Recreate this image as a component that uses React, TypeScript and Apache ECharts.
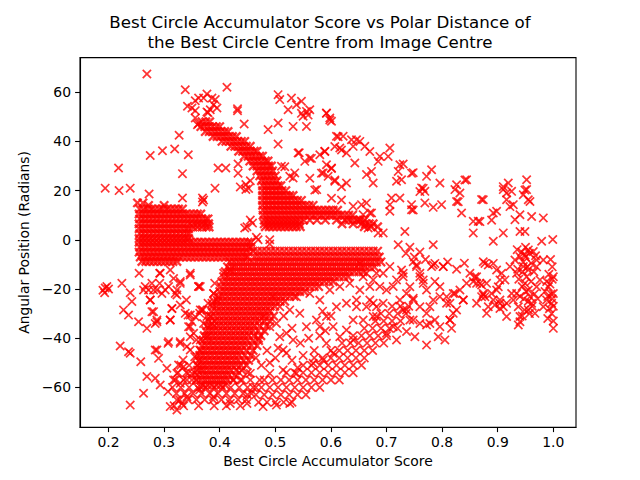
import React, { useEffect, useRef } from 'react';
import * as echarts from 'echarts';

// dense parts of the cloud, read row by row: [angular position, [scores...]]
const coreBlock: [number, number[]][] = [
  [15, [0.252, 0.262]],
  [14, [0.272, 0.3]],
  [12.5, [0.256, 0.263, 0.27, 0.277, 0.284, 0.291, 0.298, 0.305, 0.312, 0.319, 0.326, 0.333]],
  [10.5, [0.255, 0.262, 0.269, 0.276, 0.283, 0.29, 0.297, 0.304, 0.311, 0.318, 0.325, 0.332, 0.339, 0.346, 0.353, 0.36, 0.366]],
  [8.5, [0.256, 0.263, 0.27, 0.277, 0.284, 0.291, 0.298, 0.305, 0.312, 0.319, 0.326, 0.333, 0.34, 0.347, 0.354, 0.361, 0.368, 0.375, 0.379]],
  [6.5, [0.255, 0.262, 0.269, 0.276, 0.283, 0.29, 0.297, 0.304, 0.311, 0.318, 0.325, 0.332, 0.339, 0.346, 0.353, 0.36, 0.367, 0.374, 0.38]],
  [5.2, [0.352, 0.36, 0.368, 0.376, 0.381]],
  [4.5, [0.255, 0.262, 0.269, 0.276, 0.283, 0.29, 0.297, 0.304, 0.311, 0.318, 0.325, 0.332, 0.339, 0.344]],
  [2.5, [0.256, 0.263, 0.27, 0.277, 0.284, 0.291, 0.298, 0.305, 0.312, 0.319, 0.326, 0.333, 0.34, 0.345]],
  [0.5, [0.255, 0.262, 0.269, 0.276, 0.283, 0.29, 0.297, 0.304, 0.311, 0.318, 0.325, 0.332, 0.339, 0.344]],
  [-1, [0.255, 0.262, 0.269, 0.276, 0.283, 0.29, 0.297, 0.304, 0.311, 0.318, 0.325, 0.332, 0.339, 0.346, 0.353, 0.36, 0.367, 0.374, 0.381, 0.388, 0.395, 0.402, 0.409, 0.416, 0.423, 0.43, 0.437, 0.444, 0.451, 0.456]],
  [-3, [0.256, 0.263, 0.27, 0.277, 0.284, 0.291, 0.298, 0.305, 0.312, 0.319, 0.326, 0.333, 0.34, 0.347, 0.354, 0.361, 0.368, 0.375, 0.382, 0.389, 0.396, 0.403, 0.41, 0.417, 0.424, 0.431, 0.438, 0.445, 0.452, 0.456]],
  [-5, [0.255, 0.262, 0.269, 0.276, 0.283, 0.29, 0.297, 0.304, 0.311, 0.318, 0.325, 0.332, 0.339, 0.346, 0.353, 0.36, 0.367, 0.374, 0.381, 0.388, 0.395, 0.402, 0.409, 0.416, 0.423, 0.43, 0.437, 0.444, 0.451]],
  [-7, [0.257, 0.264, 0.271, 0.278, 0.285, 0.292, 0.299, 0.306, 0.313, 0.32, 0.327, 0.334, 0.341, 0.348, 0.355, 0.362, 0.369, 0.376, 0.383, 0.39, 0.397, 0.404, 0.411, 0.418, 0.425, 0.432, 0.439, 0.446, 0.45]],
  [-8.8, [0.26, 0.267, 0.274, 0.281, 0.288, 0.295, 0.302, 0.309, 0.316, 0.323]],
];

const wedgeRows: [number, number[]][] = [
  [-4.6, [0.46, 0.468, 0.476, 0.484, 0.492, 0.5, 0.508, 0.516, 0.524, 0.532, 0.54, 0.548, 0.556, 0.564, 0.572, 0.58, 0.588, 0.596, 0.604, 0.612, 0.62, 0.628, 0.636, 0.644, 0.652, 0.66, 0.668, 0.676, 0.684]],
  [-7, [0.463, 0.471, 0.479, 0.487, 0.495, 0.503, 0.511, 0.519, 0.527, 0.535, 0.543, 0.551, 0.559, 0.567, 0.575, 0.583, 0.591, 0.599, 0.607, 0.615, 0.623, 0.631, 0.639, 0.647, 0.655, 0.663, 0.671, 0.679, 0.687]],
  [-9, [0.418, 0.426, 0.434, 0.442, 0.45, 0.458, 0.466, 0.474, 0.482, 0.49, 0.498, 0.506, 0.514, 0.522, 0.53, 0.538, 0.546, 0.554, 0.562, 0.57, 0.578, 0.586, 0.594, 0.602, 0.61, 0.618, 0.626, 0.634, 0.642, 0.65, 0.658, 0.666, 0.674, 0.682, 0.69]],
  [-11, [0.414, 0.422, 0.43, 0.438, 0.446, 0.454, 0.462, 0.47, 0.478, 0.486, 0.494, 0.502, 0.51, 0.518, 0.526, 0.534, 0.542, 0.55, 0.558, 0.566, 0.574, 0.582, 0.59, 0.598, 0.606, 0.614, 0.622, 0.63, 0.638, 0.646, 0.654, 0.662, 0.67, 0.678]],
  [-13, [0.41, 0.418, 0.426, 0.434, 0.442, 0.45, 0.458, 0.466, 0.474, 0.482, 0.49, 0.498, 0.506, 0.514, 0.522, 0.53, 0.538, 0.546, 0.554, 0.562, 0.57, 0.578, 0.586, 0.594, 0.602, 0.61, 0.618, 0.626, 0.634, 0.642, 0.65, 0.658]],
  [-15, [0.407, 0.415, 0.423, 0.431, 0.439, 0.447, 0.455, 0.463, 0.471, 0.479, 0.487, 0.495, 0.503, 0.511, 0.519, 0.527, 0.535, 0.543, 0.551, 0.559, 0.567, 0.575, 0.583, 0.591, 0.599, 0.607, 0.615, 0.623, 0.631]],
  [-17, [0.404, 0.412, 0.42, 0.428, 0.436, 0.444, 0.452, 0.46, 0.468, 0.476, 0.484, 0.492, 0.5, 0.508, 0.516, 0.524, 0.532, 0.54, 0.548, 0.556, 0.564, 0.572, 0.58, 0.588, 0.596, 0.604]],
  [-19, [0.402, 0.41, 0.418, 0.426, 0.434, 0.442, 0.45, 0.458, 0.466, 0.474, 0.482, 0.49, 0.498, 0.506, 0.514, 0.522, 0.53, 0.538, 0.546, 0.554, 0.562, 0.57, 0.578]],
  [-21, [0.4, 0.408, 0.416, 0.424, 0.432, 0.44, 0.448, 0.456, 0.464, 0.472, 0.48, 0.488, 0.496, 0.504, 0.512, 0.52, 0.528, 0.536, 0.544, 0.552]],
  [-23, [0.398, 0.406, 0.414, 0.422, 0.43, 0.438, 0.446, 0.454, 0.462, 0.47, 0.478, 0.486, 0.494, 0.502, 0.51, 0.518, 0.526, 0.534]],
  [-25, [0.397, 0.405, 0.413, 0.421, 0.429, 0.437, 0.445, 0.453, 0.461, 0.469, 0.477, 0.485, 0.493, 0.501, 0.509, 0.517]],
  [-27, [0.395, 0.403, 0.411, 0.419, 0.427, 0.435, 0.443, 0.451, 0.459, 0.467, 0.475, 0.483, 0.491, 0.499]],
  [-29, [0.394, 0.402, 0.41, 0.418, 0.426, 0.434, 0.442, 0.45, 0.458, 0.466, 0.474, 0.482, 0.49]],
  [-31, [0.392, 0.4, 0.408, 0.416, 0.424, 0.432, 0.44, 0.448, 0.456, 0.464, 0.472, 0.48]],
  [-33, [0.391, 0.399, 0.407, 0.415, 0.423, 0.431, 0.439, 0.447, 0.455, 0.463, 0.471]],
  [-35, [0.39, 0.398, 0.406, 0.414, 0.422, 0.43, 0.438, 0.446, 0.454, 0.462]],
  [-37, [0.389, 0.397, 0.405, 0.413, 0.421, 0.429, 0.437, 0.445, 0.453, 0.46]],
  [-39, [0.388, 0.396, 0.404, 0.412, 0.42, 0.428, 0.436, 0.444, 0.452]],
  [-41, [0.386, 0.394, 0.402, 0.41, 0.418, 0.426, 0.434, 0.442, 0.45]],
  [-43, [0.384, 0.392, 0.4, 0.408, 0.416, 0.424, 0.432, 0.44, 0.448]],
  [-45, [0.382, 0.39, 0.398, 0.406, 0.414, 0.422, 0.43, 0.438]],
  [-47, [0.379, 0.387, 0.395, 0.403, 0.411, 0.419, 0.427, 0.435]],
  [-49, [0.377, 0.385, 0.393, 0.401, 0.409, 0.417, 0.425, 0.433]],
  [-51, [0.374, 0.382, 0.39, 0.398, 0.406, 0.414, 0.422, 0.43]],
  [-53, [0.372, 0.38, 0.388, 0.396, 0.404, 0.412, 0.42]],
  [-55, [0.369, 0.377, 0.385, 0.393, 0.401, 0.409, 0.417]],
  [-57, [0.366, 0.374, 0.382, 0.39, 0.398, 0.406, 0.414]],
  [-59, [0.37, 0.378, 0.386, 0.394, 0.402, 0.41]],
];

// the wedge is wider on both flanks below about -25
const wedgeEdgeRows: [number, number[]][] = [
  [-25, [0.39]],
  [-27, [0.387]],
  [-29, [0.385]],
  [-31, [0.384, 0.488, 0.497]],
  [-33, [0.38, 0.48, 0.49]],
  [-35, [0.377, 0.383, 0.472, 0.484]],
  [-37, [0.375, 0.382, 0.469, 0.48]],
  [-39, [0.372, 0.38, 0.462, 0.474]],
  [-41, [0.37, 0.378, 0.46, 0.47]],
  [-43, [0.368, 0.376, 0.457, 0.467]],
  [-45, [0.366, 0.374, 0.448, 0.46]],
  [-47, [0.364, 0.371, 0.445, 0.456]],
  [-49, [0.362, 0.369, 0.443, 0.452]],
  [-51, [0.36, 0.367, 0.438, 0.448]],
  [-53, [0.36, 0.366, 0.43, 0.44]],
  [-55, [0.36, 0.427]],
  [-57, [0.358, 0.424]],
];

const upperBandRows: [number, number[]][] = [
  [48, [0.368, 0.375, 0.382]],
  [46, [0.366, 0.373, 0.38, 0.387, 0.394, 0.4]],
  [44, [0.374, 0.381, 0.388, 0.395, 0.402, 0.409, 0.415]],
  [42, [0.388, 0.395, 0.402, 0.409, 0.416, 0.423, 0.43]],
  [40, [0.404, 0.411, 0.418, 0.425, 0.432, 0.439, 0.445]],
  [38, [0.42, 0.427, 0.434, 0.441, 0.448, 0.455]],
  [36, [0.434, 0.441, 0.448, 0.455, 0.462, 0.467]],
  [34, [0.444, 0.451, 0.458, 0.465, 0.472, 0.477]],
  [32, [0.454, 0.461, 0.468, 0.475, 0.482, 0.487]],
  [30, [0.46, 0.467, 0.474, 0.481, 0.488, 0.493]],
  [28, [0.467, 0.474, 0.481, 0.488, 0.495]],
  [26, [0.472, 0.479, 0.486, 0.493, 0.5]],
  [24, [0.475, 0.482, 0.489, 0.496, 0.503]],
  [22, [0.477, 0.484, 0.491, 0.498, 0.505, 0.51]],
  [20, [0.477, 0.484, 0.491, 0.498, 0.505, 0.512, 0.519]],
  [18, [0.477, 0.484, 0.491, 0.498, 0.505, 0.512, 0.519, 0.526, 0.532]],
  [16, [0.477, 0.484, 0.491, 0.498, 0.505, 0.512, 0.519, 0.526, 0.533, 0.54, 0.547]],
  [14, [0.477, 0.484, 0.491, 0.498, 0.505, 0.512, 0.519, 0.526, 0.533, 0.54, 0.547, 0.554, 0.561, 0.568]],
  [12, [0.478, 0.485, 0.492, 0.499, 0.506, 0.513, 0.52, 0.527, 0.534, 0.541, 0.548, 0.555, 0.562, 0.569, 0.576, 0.583, 0.59, 0.597, 0.604, 0.612]],
  [10, [0.478, 0.485, 0.492, 0.499, 0.506, 0.513, 0.52, 0.527, 0.534, 0.541, 0.548, 0.555, 0.562, 0.569, 0.576, 0.583, 0.59, 0.597, 0.604, 0.611, 0.618, 0.625, 0.632, 0.639]],
  [8, [0.48, 0.487, 0.494, 0.501, 0.508, 0.515, 0.522, 0.529, 0.536, 0.543, 0.551, 0.562, 0.575, 0.59, 0.61, 0.625, 0.632, 0.639, 0.646, 0.653, 0.66]],
  [6.5, [0.48, 0.487, 0.494, 0.501, 0.508, 0.515, 0.522, 0.529, 0.536, 0.543, 0.62, 0.64, 0.655, 0.662, 0.669, 0.676]],
  [5.3, [0.482, 0.489, 0.496, 0.503, 0.51, 0.517, 0.524, 0.531, 0.538, 0.545, 0.66, 0.672, 0.684]],
];

const lowerBandRows: [number, number[]][] = [
  [-66, [0.47, 0.485, 0.5, 0.515, 0.53]],
  [-63, [0.45, 0.465, 0.48, 0.495, 0.51, 0.525, 0.54, 0.555]],
  [-60, [0.46, 0.475, 0.49, 0.505, 0.52, 0.535, 0.55, 0.565, 0.58]],
  [-57, [0.48, 0.495, 0.51, 0.525, 0.54, 0.555, 0.57, 0.585, 0.6, 0.615]],
  [-54, [0.52, 0.535, 0.55, 0.565, 0.58, 0.595, 0.61, 0.625, 0.64]],
  [-51, [0.55, 0.565, 0.58, 0.595, 0.61, 0.625, 0.64, 0.655]],
  [-48, [0.57, 0.585, 0.6, 0.615, 0.63, 0.645, 0.66]],
  [-45, [0.6, 0.615, 0.63, 0.645, 0.66, 0.675]],
  [-42, [0.62, 0.635, 0.65, 0.665, 0.68, 0.695]],
  [-39, [0.64, 0.655, 0.67, 0.685, 0.7]],
  [-36, [0.66, 0.675, 0.69, 0.705, 0.72]],
  [-33, [0.68, 0.695, 0.71, 0.725]],
  [-30, [0.69, 0.705, 0.72, 0.735]],
  [-27, [0.71, 0.725, 0.74]],
];

const bottomPatchRows: [number, number[]][] = [
  [-51, [0.33, 0.345, 0.36]],
  [-54, [0.325, 0.34, 0.355, 0.435, 0.45]],
  [-57, [0.32, 0.335, 0.35, 0.425, 0.44, 0.455]],
  [-60, [0.315, 0.33, 0.345, 0.36, 0.375, 0.39, 0.405, 0.42, 0.435, 0.45, 0.465]],
  [-62.5, [0.322, 0.337, 0.352, 0.367, 0.382, 0.397, 0.412, 0.427, 0.442, 0.457]],
  [-65, [0.328, 0.343, 0.358, 0.373, 0.388, 0.403, 0.418, 0.433, 0.448]],
  [-67.5, [0.318, 0.335, 0.362, 0.39, 0.412, 0.437]],
];

// single scattered crosses: [score, angular position]
const upperScatter: [number, number][] = [
  [0.269, 67.4], [0.338, 61], [0.413, 62], [0.377, 59.3], [0.371, 57.6], [0.356, 56.5], [0.362, 57.6],
  [0.386, 57.6], [0.392, 57], [0.389, 54.9], [0.395, 53.6], [0.383, 52.9], [0.377, 52], [0.342, 54.3],
  [0.356, 52.5], [0.35, 53.6], [0.356, 49.5], [0.36, 46.8], [0.362, 47.3], [0.379, 51.7], [0.432, 53.3],
  [0.432, 52.5], [0.444, 47.1], [0.505, 59], [0.508, 57], [0.529, 57.6], [0.538, 54.9], [0.547, 56.3],
  [0.523, 52.9], [0.556, 52.2], [0.55, 50.2], [0.562, 52.9], [0.547, 51.4], [0.559, 50.7], [0.592, 51.4],
  [0.598, 48.7], [0.487, 44.8], [0.505, 47.5], [0.532, 46.1], [0.556, 46.1], [0.505, 38.9], [0.327, 42.5],
  [0.297, 36.2], [0.319, 36.9], [0.275, 34.3], [0.3435, 34.6], [0.218, 29.2], [0.333, 26.9], [0.194, 21],
  [0.219, 20], [0.239, 21], [0.273, 18.6], [0.333, 17], [0.369, 17], [0.369, 15.4], [0.371, 16.2],
  [0.3915, 21], [0.397, 29.2], [0.411, 29.2], [0.433, 27.1], [0.433, 30.8], [0.437, 21.5], [0.447, 22.5],
  [0.455, 24], [0.447, 20.5], [0.452, 20.9], [0.445, 4.8], [0.459, 6.8], [0.455, 8], [0.449, 5.3],
  [0.469, 0], [0.49, 0], [0.49, -1.7], [0.466, 1], [0.511, 29.9], [0.526, 25.8], [0.535, 27.2],
  [0.532, 25.1], [0.517, 29.7], [0.541, 35.3], [0.553, 31.9], [0.562, 33.2], [0.543, 35.4], [0.565, 33.1],
  [0.58, 34.6], [0.589, 36], [0.592, 30.5], [0.586, 27.2], [0.5745, 20.4], [0.571, 20.2], [0.562, 25],
  [0.613, 41.9], [0.607, 37.9], [0.619, 36.5], [0.601, 29], [0.607, 24.3], [0.619, 21.6], [0.601, 16.9],
  [0.619, 16.2], [0.592, 51.5], [0.598, 49.5], [0.601, 48.2], [0.61, 42.1], [0.622, 42.1], [0.637, 40.7],
  [0.646, 40.7], [0.652, 40], [0.64, 38], [0.661, 38], [0.67, 35.9], [0.616, 37.3], [0.628, 35.3],
  [0.589, 35.9], [0.688, 33.9], [0.685, 31.9], [0.706, 37.3], [0.703, 33.9], [0.724, 30.5], [0.73, 30.8],
  [0.721, 27.8], [0.718, 23.8], [0.727, 24.4], [0.745, 27.1], [0.643, 31.2], [0.601, 29.2], [0.583, 27.1],
  [0.595, 25.8], [0.607, 23.8], [0.628, 23.1], [0.664, 26.5], [0.673, 27.8], [0.676, 23.1], [0.772, 25.8],
  [0.781, 28.5], [0.796, 23.1], [0.763, 21.1], [0.769, 19.7], [0.826, 22.4], [0.832, 19], [0.844, 24.4],
  [0.823, 20.4], [0.835, 10.9], [0.826, 15.6], [0.799, 14.3], [0.784, 13.2], [0.769, 15], [0.745, 14.3],
  [0.745, 12.2], [0.733, 3.4], [0.709, 17], [0.724, 17], [0.706, 14.3], [0.706, 11.6], [0.67, 10.9],
  [0.655, 14.3], [0.664, 15], [0.64, 13.6], [0.658, 10.2], [0.673, 10.9], [0.652, 8.2], [0.667, 4.8],
  [0.685, 2.8], [0.694, 2.8], [0.721, -2], [0.784, -2], [0.856, 7.5], [0.865, 7.5], [0.892, 10.9],
  [0.898, 11.6], [0.856, 2.8], [0.892, -0.6], [0.91, 2.8], [0.874, 16.3], [0.91, 20.4], [0.919, 23.1],
  [0.916, 19], [0.916, 16.3], [0.925, 19.7], [0.928, 14.3], [0.94, 10.2], [0.931, 8.2], [0.946, 18.3],
  [0.952, 20.4], [0.955, 16.3], [0.952, 24.4], [0.958, 15.6], [0.94, 3.4], [0.949, 3.4], [0.961, 9.5],
  [0.982, 8.9], [0.979, -0.6], [0.999, 0.1], [0.748, 27.3], [0.766, 20.9], [0.76, 19.6], [0.841, 24.3],
  [0.829, 15.5], [0.748, 12.1], [0.871, 16.4], [0.868, 7.4], [0.889, 8], [0.91, 21.6], [0.949, 20.2],
  [0.922, 13.5],
];

const lowerScatter: [number, number][] = [
  [0.19, -20.5], [0.194, -19.6], [0.197, -19], [0.2, -20], [0.193, -21.5], [0.224, -17.7], [0.239, -21.5],
  [0.255, -13.6], [0.278, -17.7], [0.292, -17.7], [0.302, -20.4], [0.308, -19], [0.32, -21.8], [0.323, -22.4],
  [0.329, -17], [0.347, -14.3], [0.362, -19], [0.317, -15.7], [0.292, -13.6], [0.263, -20.4], [0.272, -20.4],
  [0.287, -20.4], [0.296, -21.8], [0.242, -25.1], [0.275, -24.5], [0.227, -28.5], [0.236, -30.6],
  [0.254, -33.3], [0.278, -29.2], [0.284, -34], [0.269, -36], [0.287, -32.6], [0.311, -32.6], [0.314, -27.9],
  [0.34, -24.5], [0.329, -26.5], [0.221, -43.2], [0.236, -45.5], [0.239, -46.1], [0.258, -49.6],
  [0.287, -44.8], [0.29, -48.2], [0.307, -42.1], [0.329, -41.4], [0.305, -52.2], [0.326, -50.9],
  [0.323, -54.3], [0.269, -55.6], [0.284, -56.3], [0.293, -59], [0.263, -62.4], [0.239, -67.2],
  [0.307, -61.7], [0.323, -69.2], [0.332, -66.5], [0.341, -63.8], [0.317, -57], [0.329, -58.3],
  [0.311, -67.8], [0.323, -65.1], [0.343, -30.6], [0.347, -35.3], [0.356, -31.3], [0.35, -33.3],
  [0.364, -29.9], [0.391, -17.7], [0.379, -25.8], [0.37, -28.5], [0.377, -31.2], [0.386, -33.9],
  [0.347, -39.4], [0.358, -40.7], [0.364, -44.8], [0.355, -47.5], [0.334, -48.9], [0.343, -54.3],
  [0.358, -57], [0.364, -61], [0.347, -13.6], [0.365, -19], [0.389, -21.8], [0.338, -29.9], [0.365, -28.5],
  [0.371, -34], [0.383, -31.2], [0.395, -24.5], [0.353, -38], [0.377, -39.4], [0.341, -43.4],
  [0.359, -47.5], [0.335, -51.6], [0.35, -54.3], [0.341, -57], [0.365, -59.7], [0.389, -63.8],
  [0.293, -13.6], [0.311, -12.3], [0.329, -17.7], [0.362, -19], [0.275, -24.5], [0.281, -29.2],
  [0.287, -33.3], [0.314, -27.9], [0.311, -32.6], [0.347, -30.6], [0.344, -35.3], [0.368, -28.5],
  [0.386, -25.8], [0.308, -41.4], [0.329, -42.1], [0.347, -44.8], [0.365, -40.7], [0.284, -44.8],
  [0.281, -20.4], [0.266, -19], [0.323, -20.4], [0.389, -21.8], [0.407, -13.6], [0.419, -12.3],
  [0.478, -31.2], [0.49, -35.3], [0.502, -34], [0.508, -39.4], [0.52, -38], [0.532, -40.7], [0.514, -44.8],
  [0.544, -29.9], [0.556, -35.3], [0.574, -32.6], [0.58, -35.3], [0.592, -31.2], [0.604, -35.3],
  [0.616, -39.4], [0.628, -36.7], [0.64, -32.6], [0.61, -27.2], [0.628, -25.8], [0.646, -24.5],
  [0.664, -27.2], [0.676, -25.8], [0.682, -31.2], [0.64, -40.7], [0.592, -42.1], [0.508, -27.2],
  [0.526, -28.5], [0.496, -23.1], [0.538, -23.1], [0.562, -21.8], [0.58, -24.5], [0.598, -20.4],
  [0.616, -19], [0.634, -17.7], [0.658, -15], [0.682, -13.6], [0.652, -20.4], [0.67, -19], [0.472, -57],
  [0.455, -54.3], [0.437, -57], [0.49, -54.3], [0.514, -52.9], [0.478, -67.8], [0.502, -67.2],
  [0.526, -66.5], [0.419, -66.5], [0.449, -66.5], [0.604, -46.1], [0.586, -48.9], [0.568, -50.2],
  [0.538, -54.3], [0.58, -39], [0.59, -37], [0.6, -31], [0.585, -29], [0.57, -45], [0.55, -47],
  [0.53, -49], [0.545, -42], [0.52, -46], [0.5, -48], [0.485, -45], [0.47, -40], [0.465, -48],
  [0.475, -51], [0.49, -50], [0.505, -44], [0.53, -36], [0.515, -31], [0.56, -40], [0.54, -52],
];

const rightScatter: [number, number][] = [
  [0.748, -8.9], [0.754, -10.2], [0.784, -10.2], [0.802, -10.9], [0.73, -13.6], [0.718, -16.3],
  [0.712, -19], [0.76, -15], [0.766, -17.7], [0.772, -20.4], [0.787, -17], [0.796, -23.1], [0.808, -25.8],
  [0.82, -21.8], [0.832, -20.4], [0.838, -24.5], [0.826, -28.5], [0.814, -32.6], [0.817, -36],
  [0.793, -39.4], [0.805, -40.7], [0.772, -42.8], [0.751, -39.4], [0.736, -37.3], [0.76, -34],
  [0.742, -32.6], [0.73, -28.5], [0.724, -24.5], [0.748, -23.8], [0.778, -27.2], [0.787, -32.6],
  [0.772, -34.6], [0.7, -20.4], [0.694, -25.8], [0.682, -27.2], [0.67, -24.5], [0.676, -31.2],
  [0.658, -32.6], [0.646, -27.2], [0.712, -35.3], [0.7, -38], [0.718, -40.7], [0.688, -19], [0.676, -16.3],
  [0.664, -13.6], [0.694, -13.6], [0.706, -10.9], [0.652, -9.6], [0.735, -5.5], [0.75, -7], [0.742, -3],
  [0.76, -5], [0.77, -8], [0.754, -10.9], [0.76, -13.6], [0.766, -16.3], [0.742, -19.1], [0.736, -21.8],
  [0.748, -24.5], [0.76, -27.2], [0.772, -29.9], [0.784, -24.5], [0.781, -10.9], [0.787, -9.6],
  [0.802, -10.9], [0.796, -19.1], [0.808, -23.1], [0.814, -25.8], [0.823, -21.8], [0.838, -24.5],
  [0.82, -29.9], [0.814, -32.6], [0.796, -35.3], [0.778, -34], [0.748, -32.6], [0.736, -28.5],
  [0.73, -15], [0.727, -12.3], [0.81, -9], [0.826, -12], [0.84, -9.5],
  [0.85, -13.6], [0.862, -15], [0.868, -17.7], [0.88, -17.7], [0.874, -22.4], [0.877, -23.1],
  [0.862, -25.8], [0.88, -29.9], [0.898, -20.4], [0.904, -25.8], [0.916, -31.2], [0.907, -13.6],
  [0.892, -9.6], [0.877, -9.6], [0.934, -13.6], [0.925, -21.8], [0.94, -33.3], [0.856, -17], [0.871, -18.4],
  [0.883, -27.2], [0.892, -24.5], [0.913, -16.3], [0.844, -17.7], [0.859, -15], [0.862, -17.7],
  [0.874, -21.8], [0.871, -23.1], [0.889, -21.8], [0.901, -19.1], [0.904, -16.3], [0.898, -12.3],
  [0.874, -8.9], [0.883, -10.2], [0.904, -24.5], [0.91, -27.2], [0.895, -26.5],
  [0.922, -10.9], [0.931, -8.2], [0.94, -6.9], [0.949, -6.2], [0.955, -4.1], [0.964, -4.8], [0.97, -8.2],
  [0.982, -8.2], [0.946, -10.9], [0.955, -12.3], [0.952, -15], [0.949, -17.7], [0.955, -20.4],
  [0.958, -23.1], [0.961, -25.8], [0.955, -28.5], [0.967, -29.9], [0.982, -27.2], [0.988, -24.5],
  [0.997, -25.8], [1.0, -21.8], [0.991, -19.1], [1.0, -15], [0.976, -16.3], [0.97, -19.1], [0.934, -21.8],
  [0.928, -24.5], [0.937, -27.2], [0.94, -31.2], [0.937, -34.6], [1.0, -36], [0.916, -25.8], [0.904, -27.9],
  [0.943, -5], [0.95, -7], [0.957, -5.5], [0.946, -9], [0.953, -11], [0.96, -9.5], [0.965, -13],
  [0.945, -13], [0.96, -17], [0.944, -19], [0.951, -21], [0.966, -22], [0.947, -24], [0.955, -25],
  [0.962, -27], [0.948, -28.5], [0.957, -30], [0.944, -31], [0.97, -11], [0.972, -24], [0.938, -16],
  [0.936, -12], [0.94, -23], [0.968, -6.5], [0.95, -3], [0.935, -4], [0.992, -14], [0.998, -16],
  [0.994, -18], [0.996, -22], [0.99, -23], [0.998, -24], [1.0, -27], [0.993, -28], [0.997, -30],
  [0.99, -32], [1.0, -33], [0.985, -21], [0.988, -17], [0.998, -11], [0.995, -8],
];

const xTicks = [0.2, 0.3, 0.4, 0.5, 0.6, 0.7, 0.8, 0.9, 1.0];
const yTicks = [-60, -40, -20, 0, 20, 40, 60];

const rowsToPoints = (rows: [number, number[]][]) =>
  rows.flatMap(([y, xs]) => xs.map((x) => [x, y]));

const font = 'DejaVu Sans';
const crossSymbol = 'path://M0,0L10,10M10,0L0,10';

const App: React.FC = () => {
  const chartRef = useRef<HTMLDivElement>(null);
  useEffect(() => {
    const myChart = echarts.init(chartRef.current as HTMLDivElement, undefined, { renderer: 'svg' });
    // solid parts of the cloud get a heavier stroke so they close up like the original
    const densePoints = [
      ...rowsToPoints(coreBlock),
      ...rowsToPoints(wedgeRows),
      ...rowsToPoints(wedgeEdgeRows),
      ...rowsToPoints(upperBandRows),
    ];
    const loosePoints = [
      ...rowsToPoints(lowerBandRows),
      ...rowsToPoints(bottomPatchRows),
      ...upperScatter,
      ...lowerScatter,
      ...rightScatter,
    ];
    const axisText = { color: '#000', fontSize: 13.9, fontFamily: font };
    const crossSeries = (data: number[][], width: number) => ({
      type: 'scatter' as const,
      data,
      symbol: crossSymbol,
      symbolSize: 8.3,
      silent: true,
      progressive: 0,
      itemStyle: { color: 'rgba(0,0,0,0)', borderColor: '#ff0000', borderWidth: width },
    });

    const option: echarts.EChartsOption = {
      animation: false,
      textStyle: { fontFamily: font },
      title: {
        text: 'Best Circle Accumulator Score vs Polar Distance of\nthe Best Circle Centre from Image Centre',
        left: 'center',
        top: 8,
        textStyle: {
          color: '#000',
          fontFamily: font,
          fontSize: 16.67,
          fontWeight: 'normal',
          lineHeight: 19.5,
          align: 'center',
        },
      },
      grid: {
        left: 80,
        right: 64,
        top: 57.6,
        bottom: 52.8,
        show: true,
        borderColor: '#000',
        borderWidth: 1.1,
        backgroundColor: 'transparent',
      },
      xAxis: {
        type: 'value',
        min: 0.1487,
        max: 1.0408,
        name: 'Best Circle Accumulator Score',
        nameLocation: 'middle',
        nameGap: 26,
        nameTextStyle: axisText,
        axisLine: { onZero: false, lineStyle: { color: '#000', width: 1.1 } },
        axisTick: { length: 4.9, lineStyle: { color: '#000', width: 1.1 }, customValues: xTicks },
        axisLabel: {
          ...axisText,
          margin: 8,
          customValues: xTicks,
          formatter: (v: number) => v.toFixed(1),
        },
        splitLine: { show: false },
      },
      yAxis: {
        type: 'value',
        min: -76.18,
        max: 74.07,
        name: 'Angular Position (Radians)',
        nameLocation: 'middle',
        nameGap: 46,
        nameTextStyle: axisText,
        axisLine: { onZero: false, lineStyle: { color: '#000', width: 1.1 } },
        axisTick: { length: 4.9, lineStyle: { color: '#000', width: 1.1 }, customValues: yTicks },
        axisLabel: {
          ...axisText,
          margin: 9,
          customValues: yTicks,
          formatter: (v: number) => String(v).replace('-', '\u2212'),
        },
        splitLine: { show: false },
      },
      series: [crossSeries(densePoints, 2.3), crossSeries(loosePoints, 1.7)],
    };
    myChart.setOption(option);

    return () => {
      myChart.dispose();
    };
  }, []);

  return (
    <div
      ref={chartRef}
      style={{ position: 'fixed', left: 0, top: 0, width: 640, height: 480, background: '#fff' }}
    />
  );
};

export default App;
